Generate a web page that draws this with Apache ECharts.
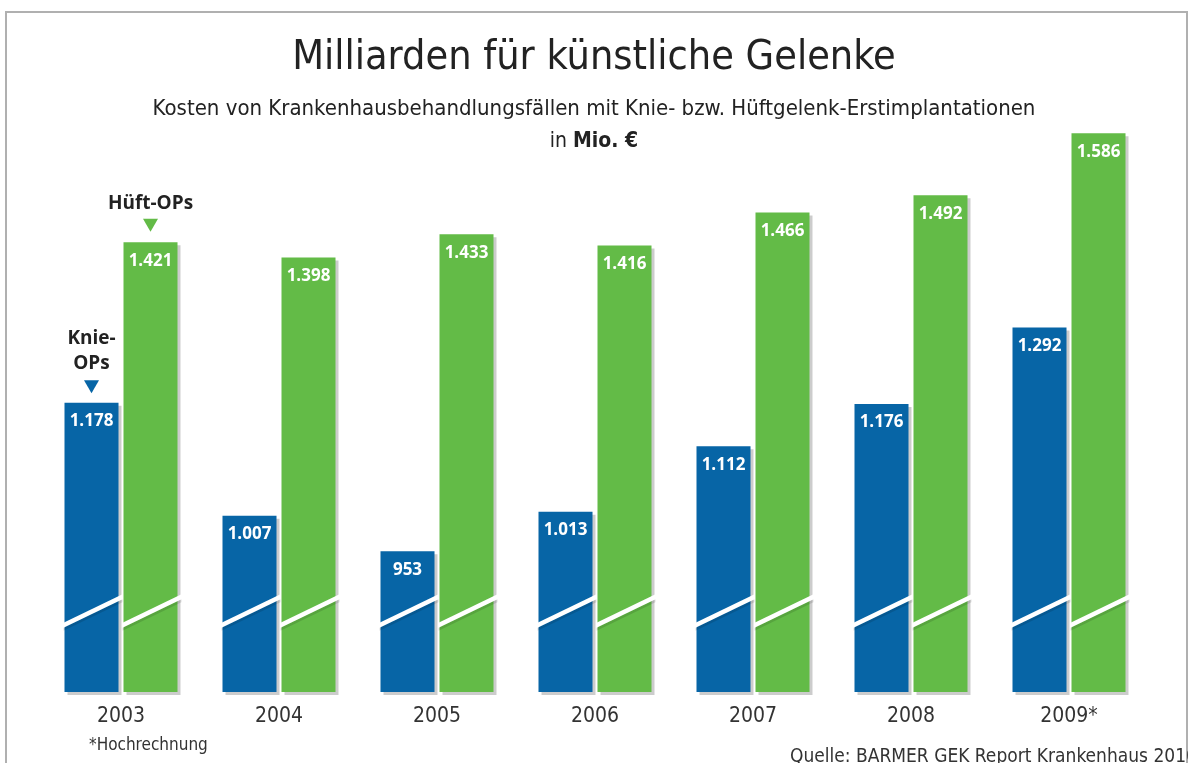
<!DOCTYPE html>
<html>
<head>
<meta charset="utf-8">
<script src="https://cdn.jsdelivr.net/npm/echarts@6/dist/echarts.min.js"></script>
<style>
  html, body { margin: 0; padding: 0; background: #fff; }
  #chart { width: 1188px; height: 763px; }
</style>
</head>
<body>
<div id="chart"></div>
<script>
var chart = echarts.init(document.getElementById('chart'));

var years = ['2003', '2004', '2005', '2006', '2007', '2008', '2009*'];
var knie = [1178, 1007, 953, 1013, 1112, 1176, 1292];
var hueft = [1421, 1398, 1433, 1416, 1466, 1492, 1586];

var blue = '#0765a6';
var green = '#63bb47';
var narrow = 'Liberation Sans Narrow, DejaVu Sans Condensed, sans-serif';
var barWidth = 54;
var barGapPx = 5;
var breakValue = 860;   // where the diagonal axis break is drawn

var fmt = function (v) {
    var s = String(v);
    return s.length > 3 ? s.slice(0, s.length - 3) + '.' + s.slice(-3) : s;
};

var labelStyle = {
    show: true,
    position: 'insideTop',
    distance: 10,
    color: '#fff',
    fontFamily: 'Open Sans',
    fontWeight: 'bold',
    fontSize: 17,
    formatter: function (p) { return fmt(p.value); }
};

var barShadow = {
    shadowColor: 'rgba(0,0,0,0.2)',
    shadowOffsetX: 3,
    shadowOffsetY: 3,
    shadowBlur: 0
};

// white diagonal cut across every bar
var renderBreak = function (params, api) {
    var c = api.coord([api.value(0), breakValue]);
    var half = barGapPx / 2;
    var ranges = [
        [c[0] - half - barWidth, c[0] - half],
        [c[0] + half, c[0] + half + barWidth]
    ];
    var children = [];
    ranges.forEach(function (r) {
        var x0 = r[0] - 1, x1 = r[1] + 4;
        var rise = 26 * (x1 - x0) / barWidth;
        var yl = c[1] + 13, yr = yl - rise;
        children.push({
            type: 'polygon',
            shape: { points: [[x0, yl + 2], [x1, yr + 2], [x1, yr + 5], [x0, yl + 5]] },
            style: { fill: 'rgba(0,0,0,0.12)' }
        });
        children.push({
            type: 'polygon',
            shape: { points: [[x0, yl - 3], [x1, yr - 3], [x1, yr + 2], [x0, yl + 2]] },
            style: { fill: '#fff' }
        });
    });
    return { type: 'group', children: children };
};

var option = {
    backgroundColor: '#fff',
    animation: false,
    title: [
        {
            text: 'Milliarden für künstliche Gelenke',
            left: 'center',
            top: 33,
            textStyle: { fontFamily: narrow, fontWeight: 'normal', fontSize: 41, color: '#222' }
        },
        {
            text: 'Kosten von Krankenhausbehandlungsfällen mit Knie- bzw. Hüftgelenk-Erstimplantationen',
            left: 'center',
            top: 93,
            textStyle: { fontFamily: narrow, fontWeight: 'normal', fontSize: 22, color: '#222' }
        },
        {
            text: '{n|in }{b|Mio. €}',
            left: 'center',
            top: 126,
            textStyle: {
                rich: {
                    n: { fontFamily: narrow, fontSize: 21, fontWeight: 'normal', color: '#222' },
                    b: { fontFamily: narrow, fontSize: 21, fontWeight: 'bold', color: '#222' }
                }
            }
        }
    ],
    grid: { left: 42, right: 40, top: 124, bottom: 71 },
    xAxis: {
        type: 'category',
        data: years,
        axisLine: { show: false },
        axisTick: { show: false },
        axisLabel: { margin: 14, fontFamily: narrow, fontSize: 21, color: '#333' }
    },
    yAxis: {
        type: 'value',
        min: 740,
        max: 1600,
        show: false,
        splitLine: { show: false }
    },
    series: [
        {
            name: 'Knie-OPs',
            type: 'bar',
            data: knie,
            barWidth: barWidth,
            barGap: (barGapPx / barWidth * 100) + '%',
            itemStyle: Object.assign({ color: blue }, barShadow),
            label: labelStyle,
            markPoint: {
                symbol: 'triangle',
                symbolSize: [15, 13],
                symbolRotate: 180,
                symbolOffset: [0, -16],
                itemStyle: { color: blue },
                label: {
                    show: true,
                    position: 'top',
                    distance: 4,
                    formatter: 'Knie-\nOPs',
                    fontFamily: 'Open Sans',
                    fontWeight: 'bold',
                    fontSize: 19,
                    lineHeight: 25,
                    color: '#222'
                },
                data: [{ coord: [0, knie[0]] }]
            }
        },
        {
            name: 'Hüft-OPs',
            type: 'bar',
            data: hueft,
            barWidth: barWidth,
            itemStyle: Object.assign({ color: green }, barShadow),
            label: labelStyle,
            markPoint: {
                symbol: 'triangle',
                symbolSize: [15, 13],
                symbolRotate: 180,
                symbolOffset: [0, -17],
                itemStyle: { color: green },
                label: {
                    show: true,
                    position: 'top',
                    distance: 6,
                    formatter: 'Hüft-OPs',
                    fontFamily: 'Open Sans',
                    fontWeight: 'bold',
                    fontSize: 19,
                    color: '#222'
                },
                data: [{ coord: [0, hueft[0]] }]
            }
        },
        {
            name: 'break',
            type: 'custom',
            renderItem: renderBreak,
            data: years.map(function (y, i) { return [i]; }),
            silent: true,
            z: 5
        }
    ],
    graphic: [
        {
            type: 'rect',
            shape: { x: 6, y: 12, width: 1181, height: 800 },
            style: { fill: 'none', stroke: '#b0b0b0', lineWidth: 2 },
            silent: true
        },
        {
            type: 'text',
            left: 89,
            top: 737,
            style: { text: '*Hochrechnung', fontFamily: narrow, fontSize: 17, fill: '#333' }
        },
        {
            type: 'text',
            left: 790,
            top: 748,
            style: { text: 'Quelle: BARMER GEK Report Krankenhaus 2010', fontFamily: narrow, fontSize: 19, fill: '#333' }
        }
    ]
};

chart.setOption(option);
</script>
</body>
</html>
